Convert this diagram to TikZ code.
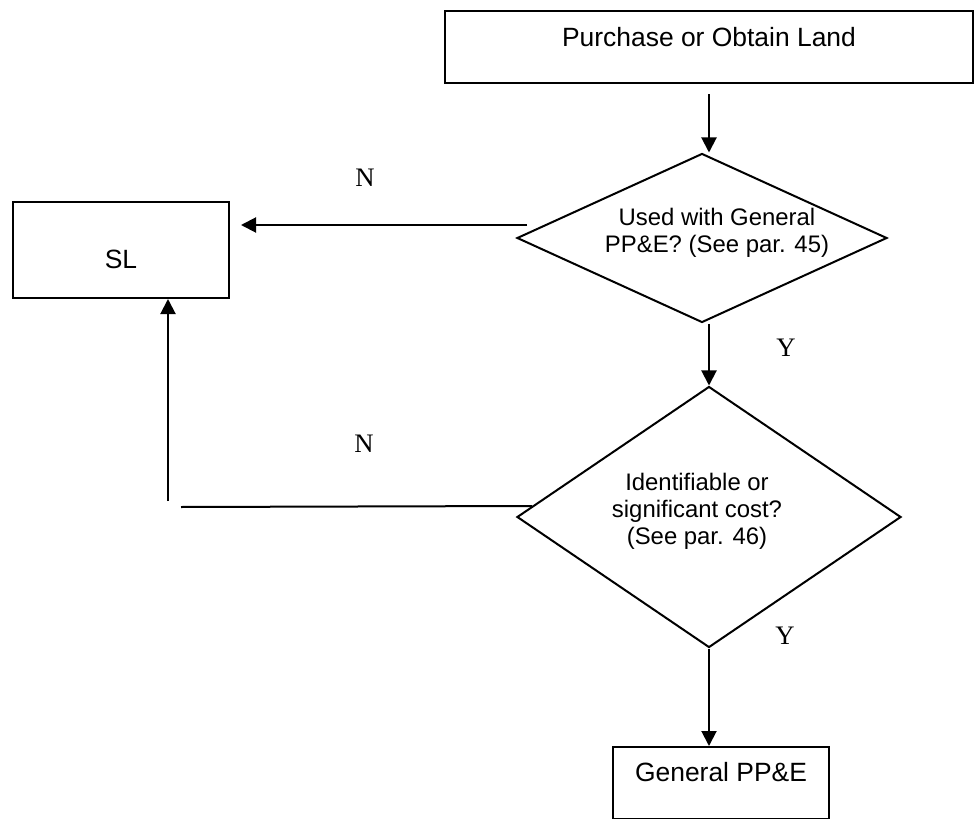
\documentclass[tikz,border=0pt]{standalone}
\usepackage{fontspec}
\setmainfont{Liberation Sans}
\newfontfamily\serifschrift{Liberation Serif}
\usetikzlibrary{shapes.geometric,arrows.meta,calc}

\begin{document}
\begin{tikzpicture}[x=0.25mm, y=-0.25mm,
    kasten/.style={draw, line width=0.5mm, inner sep=0pt, font=\fontsize{18.8}{21}\selectfont},
    raute/.style={draw, diamond, line width=0.5mm, inner sep=0pt},
    frage/.style={align=center, inner sep=0pt, font=\fontsize{17}{19.2}\selectfont},
    pfeil/.style={line width=0.5mm, -{Triangle[length=3.75mm, width=3.75mm]}},
    linie/.style={line width=0.5mm},
    marke/.style={inner sep=0pt, font=\serifschrift\fontsize{19}{19}\selectfont}]

    \useasboundingbox (0,0) rectangle (977,819);

    % Kaesten
    \node[kasten, anchor=north, minimum width=132mm, text height=8.75mm, text depth=9.25mm] (land) at (709,10) {Purchase or Obtain Land};
    \node[kasten, minimum width=54mm, text height=16.5mm, text depth=7.5mm] (sl) at (121,250) {SL};
    \node[kasten, anchor=north, minimum width=54mm, text height=8.5mm, text depth=9.5mm] (gen) at (721,746) {General PP\&E};

    % Entscheidungen
    \node[raute, minimum width=92.5mm, minimum height=42.25mm] (d1) at (702,238) {};
    \node[frage] (q1) at (717,233) {Used with General\\PP\&E? (See par. 45)};
    \node[raute, minimum width=96mm, minimum height=65.25mm] (d2) at (709,517) {};
    \node[frage] (q2) at (697,511) {Identifiable or\\significant cost?\\(See par. 46)};

    % Pfeile
    \coordinate (a1) at ($(land.south)+(0,10)$);
    \draw[pfeil] (a1) -- (a1 |- d1.north);

    \coordinate (n1) at ($(d1.west)+(11,-13)$);
    \coordinate (s1) at ($(sl.east)+(11,-25)$);
    \draw[pfeil] (n1) -- (s1);

    \coordinate (a2) at ($(d1.south)+(7,0)$);
    \draw[pfeil] (a2) -- (d2.north);

    \coordinate (n2) at ($(d2.west)+(16,-11)$);
    \coordinate (e2) at ($(sl.south)+(60,208)$);
    \draw[linie] (n2) -- (e2);
    \coordinate (e3) at ($(sl.south)+(47,202)$);
    \draw[pfeil] (e3) -- (e3 |- sl.south);

    \draw[pfeil] (d2.south) -- (d2.south |- gen.north);

    % Beschriftungen
    \node[marke] (n1txt) at (365,178) {N};
    \node[marke] (n2txt) at (364,444) {N};
    \node[marke] (y1txt) at (786,348) {Y};
    \node[marke] (y2txt) at (785,636) {Y};

\end{tikzpicture}
\end{document}
